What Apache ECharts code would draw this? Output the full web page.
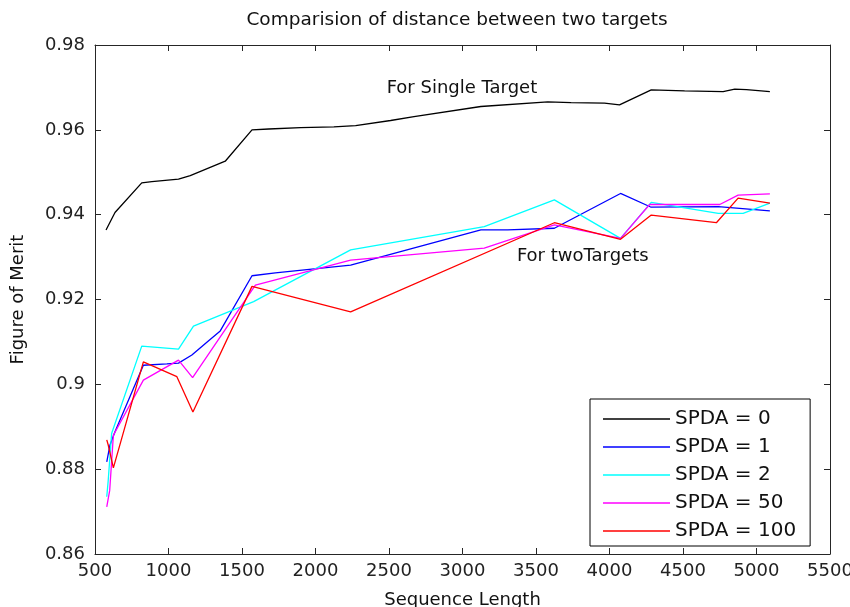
<!DOCTYPE html>
<html>
<head>
<meta charset="utf-8">
<script src="https://cdn.jsdelivr.net/npm/echarts@6/dist/echarts.min.js"></script>
<style>html,body{margin:0;padding:0;background:#fff}#c{width:850px;height:607px}</style>
</head>
<body>
<div id="c"></div>
<script>
// ---- data ----
const seriesNames = ['SPDA = 0', 'SPDA = 1', 'SPDA = 2', 'SPDA = 50', 'SPDA = 100'];

const x0 = [575, 636, 818, 887, 1068, 1148, 1386, 1568, 1682, 1898, 2125, 2273, 2511, 2670, 3125, 3580, 3739, 3966, 4068, 4284, 4511, 4773, 4852, 4932, 5091];
const y0 = [0.9364, 0.9405, 0.9475, 0.9478, 0.9484, 0.9492, 0.9526, 0.9600, 0.9602, 0.9605, 0.9607, 0.9610, 0.9622, 0.9631, 0.9655, 0.9666, 0.9664, 0.9663, 0.9659, 0.9694, 0.9692, 0.9690, 0.9696, 0.9695, 0.9690];

const x1 = [580, 602, 636, 829, 989, 1068, 1159, 1273, 1352, 1568, 1727, 2239, 3125, 3307, 3625, 4075, 4280, 4740, 5091];
const y1 = [0.8817, 0.8857, 0.8888, 0.9045, 0.9048, 0.9050, 0.9069, 0.9103, 0.9126, 0.9256, 0.9263, 0.9281, 0.9364, 0.9364, 0.9368, 0.9450, 0.9418, 0.9419, 0.9409];

const x2 = [580, 590, 613, 818, 1068, 1170, 1579, 2239, 3148, 3625, 4075, 4284, 4740, 4909, 5091];
const y2 = [0.8735, 0.8774, 0.8884, 0.9090, 0.9083, 0.9137, 0.9195, 0.9317, 0.9372, 0.9435, 0.9344, 0.9429, 0.9403, 0.9403, 0.9427];

const x50 = [580, 600, 625, 829, 1068, 1164, 1591, 2239, 3148, 3625, 4075, 4273, 4750, 4875, 5091];
const y50 = [0.8711, 0.8750, 0.8880, 0.9010, 0.9057, 0.9016, 0.9234, 0.9293, 0.9321, 0.9376, 0.9344, 0.9424, 0.9424, 0.9446, 0.9449];

const x100 = [580, 590, 625, 829, 1057, 1166, 1568, 2239, 3625, 4075, 4284, 4727, 4875, 5091];
const y100 = [0.8869, 0.8857, 0.8803, 0.9053, 0.9018, 0.8935, 0.9231, 0.9171, 0.9381, 0.9342, 0.9399, 0.9381, 0.9439, 0.9427];

const xTicks = { min: 500, max: 5500, interval: 500 };
const yTicks = { min: 0.86, max: 0.98, interval: 0.02 };

const annotations = [
  { text: 'For Single Target', x: 2484, y: 0.9694 },
  { text: 'For twoTargets', x: 3370, y: 0.9298 }
];

// ---- chart ----
const colors = ['#000000', '#0000ff', '#00ffff', '#ff00ff', '#ff0000'];
const xs = [x0, x1, x2, x50, x100];
const ys = [y0, y1, y2, y50, y100];
const FONT = 'DejaVu Sans';
const AX = '#262626';

const chart = echarts.init(document.getElementById('c'), null, { renderer: 'canvas' });

function axisCommon(showLabel) {
  return {
    axisLine: { show: true, onZero: false, lineStyle: { color: AX, width: 1 } },
    axisTick: { show: true, inside: true, length: 6, lineStyle: { color: AX } },
    splitLine: { show: false },
    axisLabel: { show: showLabel, color: '#222', fontFamily: FONT, fontSize: 18 }
  };
}

const option = {
  animation: false,
  backgroundColor: '#ffffff',
  title: {
    text: 'Comparision of distance between two targets',
    left: 452, top: 6, textAlign: 'center',
    textStyle: { fontFamily: FONT, fontSize: 18.5, fontWeight: 'normal', color: '#111' }
  },
  grid: { left: 95, right: 20, top: 45, bottom: 53, containLabel: false, outerBoundsMode: 'none' },
  legend: {
    orient: 'vertical',
    left: 590, top: 399,
    padding: [10, 14, 5, 13],
    itemGap: 8,
    itemWidth: 67,
    itemHeight: 1.5,
    borderColor: '#000', borderWidth: 1,
    backgroundColor: '#fff',
    textStyle: { fontFamily: FONT, fontSize: 20, color: '#111', lineHeight: 20 },
    data: seriesNames.map((n, i) => ({
      name: n, icon: 'rect',
      itemStyle: { color: colors[i], borderWidth: 0 }
    }))
  },
  xAxis: [
    Object.assign({ type: 'value', position: 'bottom' }, xTicks, axisCommon(true), {
      name: 'Sequence Length', nameLocation: 'middle', nameGap: 37,
      nameTextStyle: { fontFamily: FONT, fontSize: 18, color: '#111' }
    }),
    Object.assign({ type: 'value', position: 'top' }, xTicks, axisCommon(false))
  ],
  yAxis: [
    Object.assign({ type: 'value', position: 'left' }, yTicks, axisCommon(true), {
      name: 'Figure of Merit', nameLocation: 'middle', nameGap: 68,
      nameTextStyle: { fontFamily: FONT, fontSize: 18, color: '#111' }
    }),
    Object.assign({ type: 'value', position: 'right' }, yTicks, axisCommon(false))
  ],
  series: seriesNames.map((n, i) => ({
    name: n,
    type: 'line',
    xAxisIndex: 0, yAxisIndex: 0,
    showSymbol: false, symbol: 'none',
    lineStyle: { color: colors[i], width: 1.3 },
    itemStyle: { color: colors[i] },
    data: xs[i].map((x, k) => [x, ys[i][k]])
  }))
};
option.yAxis[0].axisLabel.formatter = v => String(+v.toFixed(2));
option.yAxis[0].axisLabel.margin = 10;
option.xAxis[0].axisLabel.formatter = v => String(v);
option.xAxis[0].axisLabel.margin = 8;

chart.setOption(option);

chart.setOption({
  graphic: annotations.map(a => {
    const p = chart.convertToPixel({ xAxisIndex: 0, yAxisIndex: 0 }, [a.x, a.y]);
    return {
      type: 'text', left: p[0], top: p[1] - 11,
      style: { text: a.text, fontFamily: FONT, fontSize: 18, fill: '#111' }
    };
  })
});
</script>
</body>
</html>
